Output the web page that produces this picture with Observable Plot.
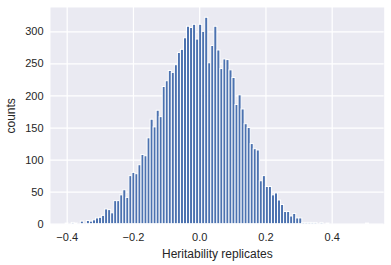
<!DOCTYPE html>
<html>
<head>
<meta charset="utf-8">
<script src="https://cdn.jsdelivr.net/npm/d3@7"></script>
<script src="https://cdn.jsdelivr.net/npm/@observablehq/plot@0.6"></script>
<style>
  html, body { margin: 0; padding: 0; background: #fff; }
  #chart svg { display: block; }
</style>
</head>
<body>
<div id="chart"></div>
<script>
// Histogram of heritability replicates: 100 equal bins
const binMin = -0.4046;
const binMax = 0.5112;
const counts = [
  1, 0, 2, 1, 0, 4, 0, 5, 4, 6,
  9, 10, 13, 23, 22, 17, 36, 36, 45, 53,
  41, 75, 80, 78, 92, 108, 106, 134, 163, 151,
  177, 167, 214, 223, 239, 236, 248, 267, 272, 290,
  308, 306, 311, 288, 311, 300, 322, 251, 278, 308,
  271, 242, 257, 256, 240, 228, 186, 201, 179, 156,
  150, 125, 117, 115, 67, 75, 58, 58, 45, 48,
  37, 30, 19, 19, 12, 16, 9, 9, 2, 2,
  2, 2, 2, 0, 2, 0, 1, 0, 0, 0,
  0, 0, 0, 0, 0, 0, 0, 0, 0, 1
];
const xTicks = [-0.4, -0.2, 0.0, 0.2, 0.4];
const yTicks = [0, 50, 100, 150, 200, 250, 300];
const xLabel = "Heritability replicates";
const yLabel = "counts";

const binWidth = (binMax - binMin) / counts.length;
const bins = counts.map((c, i) => ({
  x1: binMin + i * binWidth,
  x2: binMin + (i + 1) * binWidth,
  count: c
}));

const chart = Plot.plot({
  width: 391,
  height: 265,
  marginLeft: 50,
  marginRight: 7.3,
  marginTop: 7,
  marginBottom: 41.3,
  style: {fontFamily: "'Liberation Sans', Arial, sans-serif", fontSize: "11px", color: "#262626", background: "#ffffff"},
  x: {domain: [-0.4504, 0.5570]},
  y: {domain: [0, 338]},
  marks: [
    Plot.frame({fill: "#eaeaf2", stroke: null}),
    Plot.gridX(xTicks, {stroke: "#ffffff", strokeOpacity: 1, strokeWidth: 1.25}),
    Plot.gridY(yTicks, {stroke: "#ffffff", strokeOpacity: 1, strokeWidth: 1.25}),
    Plot.rectY(bins, {x1: "x1", x2: "x2", y: "count", fill: "#4c72b0", stroke: "#ffffff", strokeWidth: 1, insetLeft: 0, insetRight: 0}),
    Plot.axisX(xTicks, {tickSize: 0, tickPadding: 9, tickFormat: d3.format(".1f"), fontSize: 11, fill: "#262626",
      label: xLabel, labelAnchor: "center", labelArrow: "none", labelOffset: 34}),
    Plot.axisY(yTicks, {tickSize: 0, tickPadding: 7, fontSize: 11, fill: "#262626",
      label: yLabel, labelAnchor: "center", labelArrow: "none", labelOffset: 44})
  ]
});
// label font size 12
chart.querySelectorAll("g[aria-label='x-axis label'] text, g[aria-label='y-axis label'] text").forEach(t => t.setAttribute("font-size", "12"));
document.getElementById("chart").appendChild(chart);
</script>
</body>
</html>
